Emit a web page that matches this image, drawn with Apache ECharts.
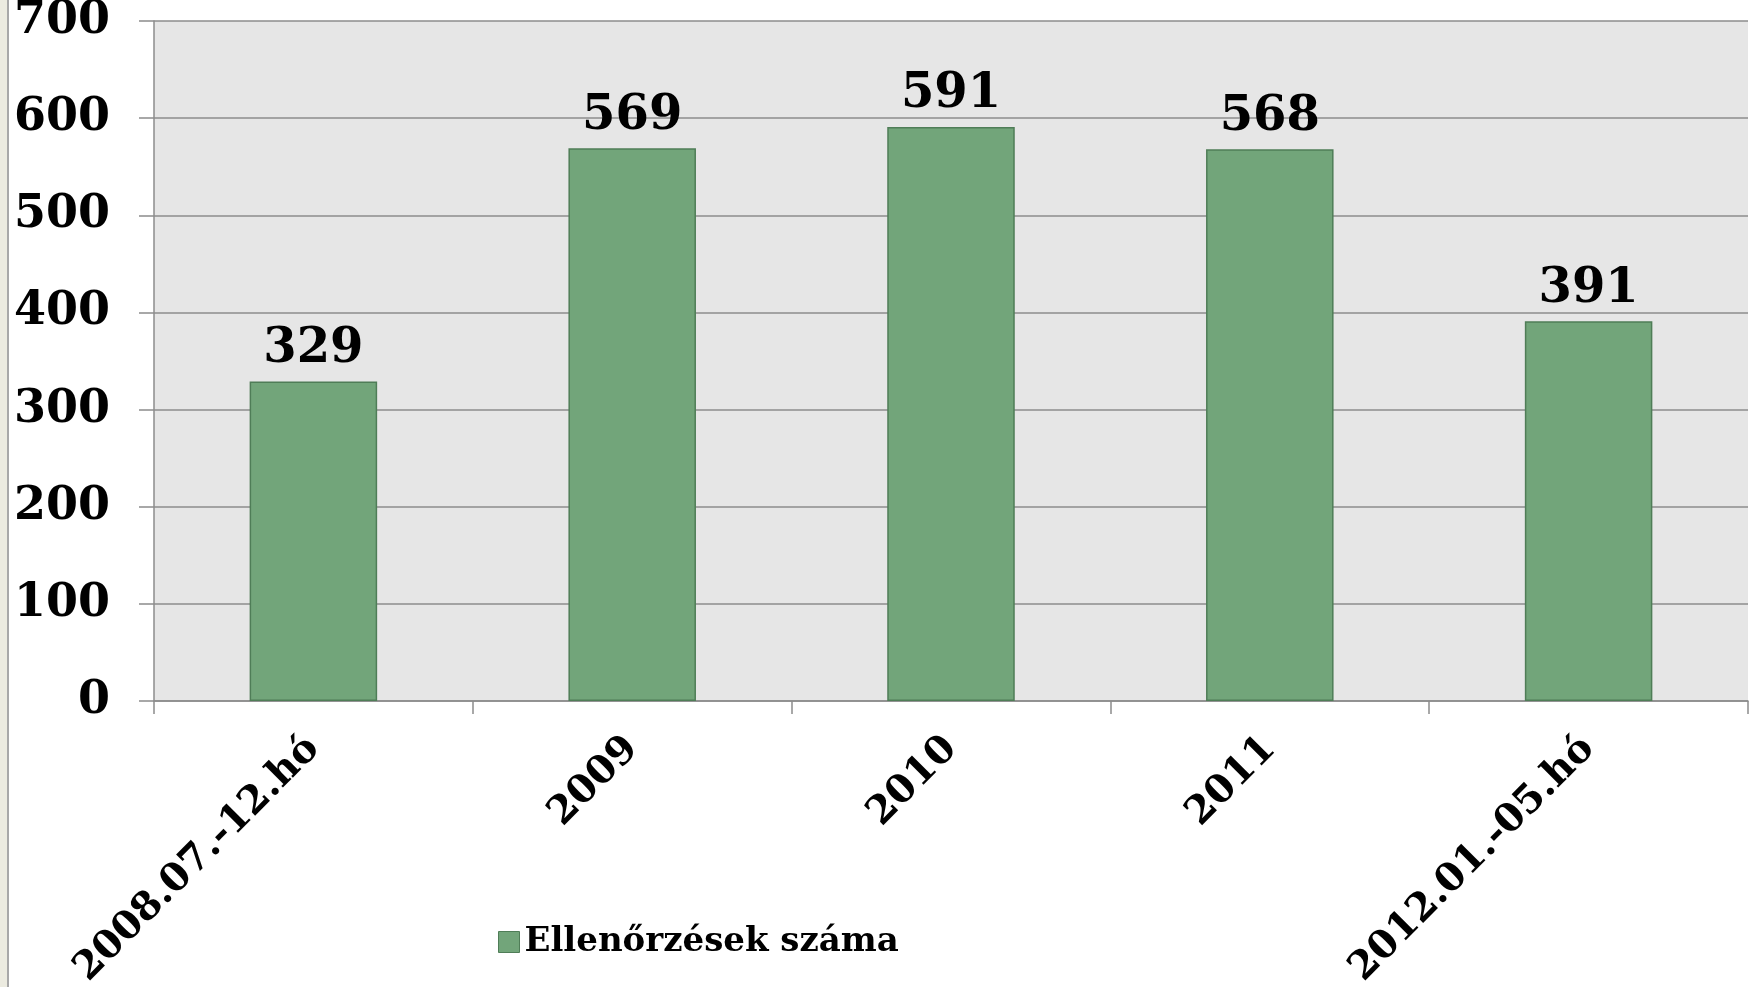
<!DOCTYPE html>
<html>
<head>
<meta charset="utf-8">
<script src="https://cdn.jsdelivr.net/npm/echarts@6/dist/echarts.min.js"></script>
<style>
  html, body { margin: 0; padding: 0; background: #fff; }
  #main { width: 1752px; height: 987px; }
</style>
</head>
<body>
<div id="main"></div>
<script>
// adatok
var categories = ['2008.07.-12.hó', '2009', '2010', '2011', '2012.01.-05.hó'];
var counts = [329, 569, 591, 568, 391];
var seriesName = 'Ellenőrzések száma';

var font = 'DejaVu Serif';
var gridColor = '#8c8c8c';

var myChart = echarts.init(document.getElementById('main'));

var option = {
    backgroundColor: '#ffffff',
    animation: false,
    graphic: [
        // bal oldali sáv
        { type: 'rect', left: 0, top: 0, shape: { width: 7, height: 987 }, style: { fill: '#ecebe0' } },
        { type: 'rect', left: 7, top: 0, shape: { width: 2, height: 987 }, style: { fill: '#a8a8a8' } }
    ],
    grid: {
        left: 154,
        right: 4,
        top: 21,
        bottom: 286,
        outerBoundsMode: 'none',
        containLabel: false,
        show: true,
        backgroundColor: '#e6e6e6',
        borderWidth: 0
    },
    legend: {
        left: 493,
        top: 920,
        itemWidth: 21,
        itemHeight: 21,
        icon: 'rect',
        itemStyle: { borderColor: '#4f7d57', borderWidth: 1 },
        textStyle: { fontFamily: font, fontWeight: 'bold', fontSize: 34, color: '#000' },
        data: [seriesName]
    },
    xAxis: {
        type: 'category',
        data: categories,
        boundaryGap: true,
        axisLine: { show: true, lineStyle: { color: gridColor, width: 1.5 } },
        axisTick: { show: true, length: 13, lineStyle: { color: gridColor, width: 1.5 } },
        axisLabel: {
            rotate: 45,
            margin: 42,
            fontFamily: font,
            fontWeight: 'bold',
            fontSize: 39,
            color: '#000'
        }
    },
    yAxis: {
        type: 'value',
        min: 0,
        max: 700,
        interval: 100,
        axisLine: { show: true, lineStyle: { color: gridColor, width: 1.5 } },
        axisTick: { show: true, length: 15, lineStyle: { color: gridColor, width: 1.5 } },
        splitLine: { show: true, lineStyle: { color: gridColor, width: 1.5 } },
        axisLabel: {
            margin: 44,
            fontFamily: font,
            fontWeight: 'bold',
            fontSize: 46,
            color: '#000'
        }
    },
    series: [
        {
            name: seriesName,
            type: 'bar',
            barWidth: '40%',
            data: counts,
            itemStyle: {
                color: '#72a57a',
                borderColor: '#4f7d57',
                borderWidth: 1.5
            },
            label: {
                show: true,
                position: 'top',
                distance: 8,
                fontFamily: font,
                fontWeight: 'bold',
                fontSize: 48,
                color: '#000'
            }
        }
    ]
};
myChart.setOption(option);
</script>
</body>
</html>
